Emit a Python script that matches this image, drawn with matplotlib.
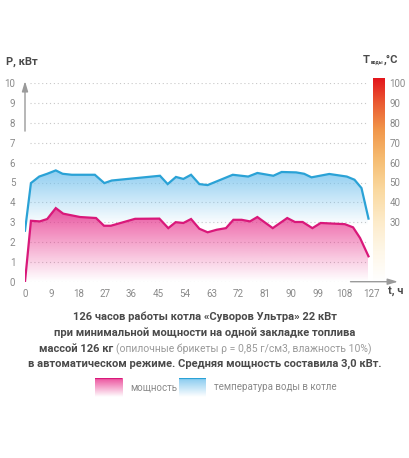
import numpy as np
import matplotlib.pyplot as plt
from matplotlib.colors import LinearSegmentedColormap
from matplotlib.patches import Polygon

plt.rcParams['font.family'] = ['Roboto', 'DejaVu Sans']

# power, kW
power_hours = [0, 2, 5, 7.5, 10.4, 12.9, 18.6, 24, 26.7, 29, 37.2, 45.4, 48.4, 50.9,
               53.5, 56.1, 58.9, 61.7, 64.8, 67.9, 70.4, 73.2, 76, 78.5, 83.7, 88.6,
               91.2, 93.8, 97.1, 99.9, 108.1, 114, 119, 125]
power_kw = [0.0, 3.07, 3.04, 3.16, 3.71, 3.43, 3.26, 3.21, 2.82, 2.82, 3.17, 3.18, 2.70, 3.00,
            2.96, 3.16, 2.67, 2.49, 2.62, 2.70, 3.12, 3.12, 3.04, 3.26, 2.70, 3.21,
            3.01, 3.01, 2.70, 2.96, 2.90, 2.74, 2.20, 1.28]

# water temperature, C
temp_hours = [0, 2, 4.8, 7.5, 10.4, 12.7, 15.8, 23.6, 26.8, 29.3, 45.6, 48.2, 51, 53.5,
              56.1, 58.9, 61.7, 70.2, 75.4, 78.5, 83.9, 86.7, 91.6, 94.3, 96.8, 102.8,
              109.5, 115, 120, 125]
temp_c = [25.7, 49.7, 53.0, 54.4, 56.1, 54.4, 53.9, 53.9, 49.7, 51.0, 53.4, 49.2, 52.8, 51.8,
          53.9, 49.2, 48.7, 53.9, 53.0, 54.8, 53.4, 55.3, 55.1, 54.4, 52.6, 54.3,
          53.0, 51.4, 47.2, 31.8]

x_ticks = [0, 9, 18, 27, 36, 45, 54, 63, 72, 81, 90, 99, 108, 127]
p_ticks = list(range(0, 11))
t_ticks = [30, 40, 50, 60, 70, 80, 90, 100]

PINK = '#d9187a'
BLUE = '#2aa2d6'
TICK = '#8a8a8a'
DARK = '#4a4a4a'
W, H = 410, 458


# last interval 108..127 is squeezed to the same width as the others
def fwd(h):
    h = np.asarray(h, dtype=float)
    return np.where(h <= 108, h, 108 + (h - 108) * 9 / 19)


def inv(p):
    p = np.asarray(p, dtype=float)
    return np.where(p <= 108, p, 108 + (p - 108) * 19 / 9)


def gradient_fill(axis, xs, ys, rgb, a_top, y_top, y_bottom, z):
    verts = list(zip(xs, ys)) + [(xs[-1], y_bottom), (xs[0], y_bottom)]
    poly = Polygon(verts, closed=True, facecolor='none', edgecolor='none')
    axis.add_patch(poly)
    img = np.zeros((256, 1, 4))
    img[:, 0, :3] = rgb
    img[:, 0, 3] = np.linspace(a_top, 0, 256)
    im = axis.imshow(img, aspect='auto', extent=(xs[0], xs[-1], y_bottom, y_top),
                     origin='upper', zorder=z, interpolation='bilinear')
    im.set_clip_path(poly)


def px_text(x, y, s, **kw):
    return fig.text(x / W, 1 - y / H, s, **kw)


fig = plt.figure(figsize=(4.1, 4.58), dpi=100)
ax = fig.add_axes([25 / W, 176.3 / H, 346.3 / W, 198.4 / H])
ax.set_xscale('function', functions=(fwd, inv))
ax.set_xlim(0, 127)
ax.set_ylim(0, 10)

ax2 = ax.twinx()
ax2.set_ylim(0, 100)
ax.set_zorder(ax2.get_zorder() + 1)
ax.patch.set_visible(False)

for s in list(ax.spines.values()) + list(ax2.spines.values()):
    s.set_visible(False)

# dotted grid
for v in p_ticks:
    ax2.plot([0.015, 0.985], [v * 10, v * 10], transform=ax2.get_yaxis_transform(),
             ls=(0, (1, 2.5)), lw=0.8, color='#c8c8c8', zorder=0)

# water temperature
gradient_fill(ax2, temp_hours, temp_c, (0.45, 0.76, 0.93), 0.8, 56, 28, 1)
ax2.plot(temp_hours, temp_c, color=BLUE, lw=1.6, zorder=3, solid_joinstyle='miter')

# power
gradient_fill(ax, power_hours, power_kw, (0.91, 0.20, 0.55), 0.85, 3.8, 0, 1)
ax.plot(power_hours, power_kw, color=PINK, lw=1.6, zorder=3, solid_joinstyle='miter')

ax.set_xticks(x_ticks)
ax.set_xticklabels([str(t) for t in x_ticks])
ax.set_yticks(p_ticks)
ax.tick_params(axis='both', length=0, colors=TICK, labelsize=7)
ax.tick_params(axis='y', pad=7)
ax.tick_params(axis='x', pad=5)
ax2.set_yticks(t_ticks)
ax2.tick_params(axis='y', length=0, colors=TICK, labelsize=7, pad=13)

# axis arrows
ax.annotate('', xy=(0, 10.25), xytext=(0, 7.45), xycoords='data',
            arrowprops=dict(arrowstyle='-|>,head_length=0.6,head_width=0.18',
                            color='#9a9a9a', lw=1.0), annotation_clip=False)
ax.annotate('', xy=(1.085, 0), xytext=(0.932, 0), xycoords='axes fraction',
            arrowprops=dict(arrowstyle='-|>,head_length=0.6,head_width=0.18',
                            color='#9a9a9a', lw=1.0), annotation_clip=False)
px_text(388, 291, 't, ч', fontsize=8, fontweight='bold', color=DARK,
        ha='left', va='center')
px_text(6, 62, 'P, кВт', fontsize=8, fontweight='bold', color=DARK,
        ha='left', va='center')

fig.canvas.draw()
renderer = fig.canvas.get_renderer()

# T_воды, °C with a tiny subscript
tt = px_text(363, 60, 'T', fontsize=8, fontweight='bold', color=DARK,
             ha='left', va='center')
x = tt.get_window_extent(renderer).x1 + 0.5
ts = fig.text(x / W, 1 - 63 / H, 'воды', fontsize=3.5, fontweight='bold',
              color=DARK, ha='left', va='center')
x = ts.get_window_extent(renderer).x1 + 0.5
fig.text(x / W, 1 - 60 / H, ',°C', fontsize=8, fontweight='bold', color=DARK,
         ha='left', va='center')

# temperature scale bar
cax = fig.add_axes([372.7 / W, 176.3 / H, 11.8 / W, 203.4 / H])
cmap = LinearSegmentedColormap.from_list('heat', [
    (0.0, '#ffffff'), (0.15, '#fef7e8'), (0.3, '#fdebc9'), (0.45, '#fad9a0'),
    (0.6, '#f6bd72'), (0.75, '#f1964a'), (0.88, '#ea5a32'), (1.0, '#e3161c')])
cax.imshow(np.linspace(1, 0, 256).reshape(-1, 1), cmap=cmap, aspect='auto',
           extent=(0, 1, 0, 102.5))
cax.set_xlim(0, 1)
cax.set_ylim(0, 102.5)
cax.axis('off')

# caption
lines = [
    (317, '126 часов работы котла «Суворов Ультра» 22 кВт'),
    (333, 'при минимальной мощности на одной закладке топлива'),
    (364, 'в автоматическом режиме. Средняя мощность составила 3,0 кВт.'),
]
for y, s in lines:
    px_text(W / 2, y, s, fontsize=8, fontweight='bold', color=DARK,
            ha='center', va='center')

t1 = px_text(0, 349, 'массой 126 кг', fontsize=8, fontweight='bold', color=DARK,
             ha='left', va='center')
t2 = px_text(0, 349, '(опилочные брикеты ρ = 0,85 г/см3, влажность 10%)',
             fontsize=7.5, color='#9a9a9a', ha='left', va='center')
w1 = t1.get_window_extent(renderer).width
w2 = t2.get_window_extent(renderer).width
x0 = (W - (w1 + 3 + w2)) / 2
t1.set_x(x0 / W)
t2.set_x((x0 + w1 + 3) / W)


# legend
def legend_swatch(x0, x1, rgb, line_color):
    lax = fig.add_axes([x0 / W, 1 - 397 / H, (x1 - x0) / W, 19 / H])
    img = np.zeros((64, 1, 4))
    img[:, 0, :3] = rgb
    img[:, 0, 3] = np.linspace(0.85, 0, 64)
    lax.imshow(img, aspect='auto', extent=(0, 1, 0, 1), origin='upper')
    lax.plot([0, 1], [0.98, 0.98], color=line_color, lw=1.6)
    lax.set_xlim(0, 1)
    lax.set_ylim(0, 1)
    lax.axis('off')


legend_swatch(95, 122, (0.91, 0.20, 0.55), PINK)
legend_swatch(179, 206, (0.45, 0.76, 0.93), BLUE)
px_text(130, 387, 'мощность', fontsize=7, color='#8a8a8a', ha='left', va='center')
px_text(214, 387, 'температура воды в котле', fontsize=7, color='#8a8a8a',
        ha='left', va='center')

fig.savefig('out.png', dpi=100, facecolor='white')
